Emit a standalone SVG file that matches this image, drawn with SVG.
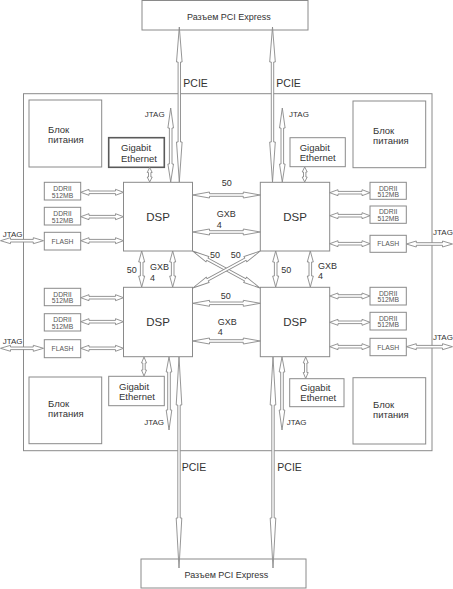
<svg xmlns="http://www.w3.org/2000/svg" width="453" height="589" viewBox="0 0 453 589">
<style>
.box{fill:#fff;stroke:#8a8a8a;stroke-width:1}
.box2{fill:#fff;stroke:#5a5a5a;stroke-width:1.6}
.ar{fill:#fff;stroke:#8a8a8a;stroke-width:0.9;stroke-linejoin:miter}
text{font-family:"Liberation Sans",Arial,sans-serif;fill:#333}
.t9{font-size:9px}
.t95{font-size:9.5px}
.t8{font-size:8px}
.t7{font-size:6.8px;fill:#555}
.pcie{font-size:10.5px}
.dsp{font-size:11.5px}
</style>
<rect width="453" height="589" fill="#fff"/>
<g id="board"><rect class="box" x="23.5" y="93.7" width="408.5" height="357"/></g>

<g id="pci-top"><rect class="box" x="142" y="0.5" width="166" height="29.5"/><text class="t9" x="187" y="20">Разъем PCI Express</text></g>
<g id="pci-bottom"><rect class="box" x="141" y="559" width="165" height="29"/><text class="t9" x="184.5" y="577.5">Разъем PCI Express</text></g>

<g id="power-tl"><rect class="box" x="29" y="100" width="72.7" height="67"/><text class="t95" x="48" y="132.5">Блок</text><text class="t95" x="48" y="142.5">питания</text></g>
<g id="power-tr"><rect class="box" x="353" y="101" width="72.7" height="66.7"/><text class="t95" x="373" y="133.5">Блок</text><text class="t95" x="373" y="143.5">питания</text></g>
<g id="power-bl"><rect class="box" x="29" y="377" width="72.7" height="66.7"/><text class="t95" x="48" y="407">Блок</text><text class="t95" x="48" y="417">питания</text></g>
<g id="power-br"><rect class="box" x="353" y="377.7" width="72.7" height="66.3"/><text class="t95" x="373" y="407.5">Блок</text><text class="t95" x="373" y="417.5">питания</text></g>

<g id="gbe-tl"><rect class="box2" x="108.7" y="137.7" width="55.6" height="29.6"/><text class="t95" x="121" y="151">Gigabit</text><text class="t95" x="121" y="161.7">Ethernet</text></g>
<g id="gbe-tr"><rect class="box" x="290" y="137.7" width="55.3" height="29"/><text class="t95" x="299.7" y="151">Gigabit</text><text class="t95" x="299.7" y="161.3">Ethernet</text></g>
<g id="gbe-bl"><rect class="box" x="108.7" y="376.3" width="55.6" height="29.4"/><text class="t95" x="119" y="389.5">Gigabit</text><text class="t95" x="119" y="399.5">Ethernet</text></g>
<g id="gbe-br"><rect class="box" x="289.7" y="378.7" width="54.3" height="28"/><text class="t95" x="300.3" y="390.7">Gigabit</text><text class="t95" x="300.3" y="400.7">Ethernet</text></g>

<g id="dsp-tl"><rect class="box" x="123.5" y="182.3" width="69" height="68.7"/><text class="dsp" x="158" y="221" text-anchor="middle">DSP</text></g>
<g id="dsp-tr"><rect class="box" x="260.3" y="182.3" width="69.4" height="68.7"/><text class="dsp" x="295" y="221" text-anchor="middle">DSP</text></g>
<g id="dsp-bl"><rect class="box" x="123.5" y="287.3" width="69" height="69.4"/><text class="dsp" x="158" y="326" text-anchor="middle">DSP</text></g>
<g id="dsp-br"><rect class="box" x="260.3" y="287.3" width="69.4" height="69.4"/><text class="dsp" x="295" y="326" text-anchor="middle">DSP</text></g>

<g id="ddr-tl1"><rect class="box" x="44.3" y="182.3" width="36.4" height="17.7"/><text class="t7" x="62.5" y="190.8" text-anchor="middle">DDRII</text><text class="t7" x="62.5" y="197.6" text-anchor="middle">512MB</text></g>
<g id="ddr-tl2"><rect class="box" x="44.3" y="207.3" width="36.4" height="17.7"/><text class="t7" x="62.5" y="215.8" text-anchor="middle">DDRII</text><text class="t7" x="62.5" y="222.6" text-anchor="middle">512MB</text></g>
<g id="flash-tl"><rect class="box" x="44.3" y="232.3" width="36.4" height="17.7"/><text class="t7" x="62.5" y="243.6" text-anchor="middle">FLASH</text></g>
<g id="ddr-bl1"><rect class="box" x="44.3" y="288.3" width="36.4" height="17.4"/><text class="t7" x="62.5" y="296.6" text-anchor="middle">DDRII</text><text class="t7" x="62.5" y="303.4" text-anchor="middle">512MB</text></g>
<g id="ddr-bl2"><rect class="box" x="44.3" y="313.7" width="36.4" height="17.3"/><text class="t7" x="62.5" y="322" text-anchor="middle">DDRII</text><text class="t7" x="62.5" y="328.8" text-anchor="middle">512MB</text></g>
<g id="flash-bl"><rect class="box" x="44.3" y="339.7" width="36.4" height="18"/><text class="t7" x="62.5" y="351.2" text-anchor="middle">FLASH</text></g>
<g id="ddr-tr1"><rect class="box" x="370" y="182.3" width="36.3" height="17"/><text class="t7" x="388.2" y="190.5" text-anchor="middle">DDRII</text><text class="t7" x="388.2" y="197.2" text-anchor="middle">512MB</text></g>
<g id="ddr-tr2"><rect class="box" x="370" y="206" width="36.3" height="17.3"/><text class="t7" x="388.2" y="214.3" text-anchor="middle">DDRII</text><text class="t7" x="388.2" y="221.2" text-anchor="middle">512MB</text></g>
<g id="flash-tr"><rect class="box" x="370" y="235.3" width="36.3" height="17"/><text class="t7" x="388.2" y="246.3" text-anchor="middle">FLASH</text></g>
<g id="ddr-br1"><rect class="box" x="370" y="287.3" width="36.3" height="17.7"/><text class="t7" x="388.2" y="295.6" text-anchor="middle">DDRII</text><text class="t7" x="388.2" y="302.4" text-anchor="middle">512MB</text></g>
<g id="ddr-br2"><rect class="box" x="370" y="312.3" width="36.3" height="17.7"/><text class="t7" x="388.2" y="320.6" text-anchor="middle">DDRII</text><text class="t7" x="388.2" y="327.4" text-anchor="middle">512MB</text></g>
<g id="flash-br"><rect class="box" x="370" y="338.3" width="36.3" height="17.4"/><text class="t7" x="388.2" y="349.5" text-anchor="middle">FLASH</text></g>

<g id="connectors">
<polygon class="ar" points="179.3,27 182.1,62 180.5,62 180.5,142 182.1,142 179.3,182 176.5,142 178.1,142 178.1,62 176.5,62"/>
<polygon class="ar" points="272.5,27 275.3,62 273.7,62 273.7,142 275.3,142 272.5,182 269.7,142 271.3,142 271.3,62 269.7,62"/>
<polygon class="ar" points="179,357 181.8,405 180.2,405 180.2,518 181.8,518 179,568 176.2,518 177.8,518 177.8,405 176.2,405"/>
<polygon class="ar" points="273,357 275.8,405 274.2,405 274.2,518 275.8,518 273,568 270.2,518 271.8,518 271.8,405 270.2,405"/>
<polygon class="ar" points="170.7,108 173.5,128 172,128 172,164 173.5,164 170.7,182 167.9,164 169.4,164 169.4,128 167.9,128"/>
<polygon class="ar" points="282.3,108 285.1,128 283.6,128 283.6,164 285.1,164 282.3,182 279.5,164 281,164 281,128 279.5,128"/>
<polygon class="ar" points="169,357 171.8,372 170.3,372 170.3,410 171.8,410 169,430 166.2,410 167.7,410 167.7,372 166.2,372"/>
<polygon class="ar" points="282,357 284.8,372 283.3,372 283.3,410 284.8,410 282,430 279.2,410 280.7,410 280.7,372 279.2,372"/>
<polygon class="ar" points="149.7,167.5 152.2,172.5 150.9,172.5 150.9,177 152.2,177 149.7,182 147.2,177 148.5,177 148.5,172.5 147.2,172.5"/>
<polygon class="ar" points="304.7,167 307.2,172 305.9,172 305.9,177 307.2,177 304.7,182 302.2,177 303.5,177 303.5,172 302.2,172"/>
<polygon class="ar" points="144,357 146.5,363 145.2,363 145.2,370 146.5,370 144,376 141.5,370 142.8,370 142.8,363 141.5,363"/>
<polygon class="ar" points="305.7,357 308.2,363 306.9,363 306.9,372.5 308.2,372.5 305.7,378.5 303.2,372.5 304.5,372.5 304.5,363 303.2,363"/>
<polygon class="ar" points="141.7,251 144.7,262 143,262 143,276 144.7,276 141.7,287 138.7,276 140.4,276 140.4,262 138.7,262"/>
<polygon class="ar" points="172.7,251 175.7,262 174,262 174,276 175.7,276 172.7,287 169.7,276 171.4,276 171.4,262 169.7,262"/>
<polygon class="ar" points="275.7,251 278.7,262 277,262 277,276 278.7,276 275.7,287 272.7,276 274.4,276 274.4,262 272.7,262"/>
<polygon class="ar" points="310.3,251 313.3,262 311.6,262 311.6,276 313.3,276 310.3,287 307.3,276 309,276 309,262 307.3,262"/>
<polygon class="ar" points="192.5,195 209.5,192 209.5,193.7 243.3,193.7 243.3,192 260.3,195 243.3,198 243.3,196.3 209.5,196.3 209.5,198"/>
<polygon class="ar" points="192.5,232 209.5,229 209.5,230.7 243.3,230.7 243.3,229 260.3,232 243.3,235 243.3,233.3 209.5,233.3 209.5,235"/>
<polygon class="ar" points="192.5,303.3 209.5,300.3 209.5,302 243.3,302 243.3,300.3 260.3,303.3 243.3,306.3 243.3,304.6 209.5,304.6 209.5,306.3"/>
<polygon class="ar" points="192.5,341 209.5,338 209.5,339.7 243.3,339.7 243.3,338 260.3,341 243.3,344 243.3,342.3 209.5,342.3 209.5,344"/>
<polygon class="ar" transform="translate(192.5,251) rotate(28.7)" points="0,0 17,-3 17,-1.3 60,-1.3 60,-3 77,0 60,3 60,1.3 17,1.3 17,3"/>
<polygon class="ar" transform="translate(260.3,251) rotate(151.3)" points="0,0 17,-3 17,-1.3 60,-1.3 60,-3 77,0 60,3 60,1.3 17,1.3 17,3"/>
<polygon class="ar" points="80.7,192.3 89,189.3 89,191 115.5,191 115.5,189.3 123.5,192.3 115.5,195.3 115.5,193.6 89,193.6 89,195.3"/>
<polygon class="ar" points="80.7,216.7 89,213.7 89,215.4 115.5,215.4 115.5,213.7 123.5,216.7 115.5,219.7 115.5,218 89,218 89,219.7"/>
<polygon class="ar" points="80.7,240.7 89,237.7 89,239.4 115.5,239.4 115.5,237.7 123.5,240.7 115.5,243.7 115.5,242 89,242 89,243.7"/>
<polygon class="ar" points="80.7,297.7 89,294.7 89,296.4 115.5,296.4 115.5,294.7 123.5,297.7 115.5,300.7 115.5,299 89,299 89,300.7"/>
<polygon class="ar" points="80.7,321.7 89,318.7 89,320.4 115.5,320.4 115.5,318.7 123.5,321.7 115.5,324.7 115.5,323 89,323 89,324.7"/>
<polygon class="ar" points="80.7,348.3 89,345.3 89,347 115.5,347 115.5,345.3 123.5,348.3 115.5,351.3 115.5,349.6 89,349.6 89,351.3"/>
<polygon class="ar" points="329.7,192.7 338,189.7 338,191.4 362,191.4 362,189.7 370,192.7 362,195.7 362,194 338,194 338,195.7"/>
<polygon class="ar" points="329.7,215.7 338,212.7 338,214.4 362,214.4 362,212.7 370,215.7 362,218.7 362,217 338,217 338,218.7"/>
<polygon class="ar" points="329.7,243.7 338,240.7 338,242.4 362,242.4 362,240.7 370,243.7 362,246.7 362,245 338,245 338,246.7"/>
<polygon class="ar" points="329.7,296 338,293 338,294.7 362,294.7 362,293 370,296 362,299 362,297.3 338,297.3 338,299"/>
<polygon class="ar" points="329.7,322.3 338,319.3 338,321 362,321 362,319.3 370,322.3 362,325.3 362,323.6 338,323.6 338,325.3"/>
<polygon class="ar" points="329.7,346.7 338,343.7 338,345.4 362,345.4 362,343.7 370,346.7 362,349.7 362,348 338,348 338,349.7"/>
<polygon class="ar" points="0.5,240.7 10.5,237.7 10.5,239.4 33.3,239.4 33.3,237.7 43.5,240.7 33.3,243.7 33.3,242 10.5,242 10.5,243.7"/>
<polygon class="ar" points="0.5,348.3 10.5,345.3 10.5,347 33.3,347 33.3,345.3 43.5,348.3 33.3,351.3 33.3,349.6 10.5,349.6 10.5,351.3"/>
<polygon class="ar" points="406.3,244 416.3,241 416.3,242.7 442.5,242.7 442.5,241 452.5,244 442.5,247 442.5,245.3 416.3,245.3 416.3,247"/>
<polygon class="ar" points="406.3,346.7 416.3,343.7 416.3,345.4 442.5,345.4 442.5,343.7 452.5,346.7 442.5,349.7 442.5,348 416.3,348 416.3,349.7"/>
</g>

<g id="labels">
<text class="pcie" x="183.3" y="86.5">PCIE</text>
<text class="pcie" x="276.3" y="86.5">PCIE</text>
<text class="pcie" x="181.7" y="470.5">PCIE</text>
<text class="pcie" x="277.3" y="470.5">PCIE</text>
<text class="t8" x="164.7" y="117.3" text-anchor="end">JTAG</text>
<text class="t8" x="289" y="116.8">JTAG</text>
<text class="t8" x="164" y="425" text-anchor="end">JTAG</text>
<text class="t8" x="286.7" y="425">JTAG</text>
<text class="t8" x="2.7" y="237">JTAG</text>
<text class="t8" x="2.7" y="344">JTAG</text>
<text class="t8" x="433" y="235">JTAG</text>
<text class="t8" x="433" y="339.5">JTAG</text>
<text class="t9" x="226.7" y="186" text-anchor="middle">50</text>
<text class="t9" x="216.7" y="217.3">GXB</text>
<text class="t9" x="216.7" y="227.5">4</text>
<text class="t9" x="225.7" y="299" text-anchor="middle">50</text>
<text class="t9" x="217.7" y="325">GXB</text>
<text class="t9" x="217.7" y="335">4</text>
<text class="t9" x="126.7" y="273.3">50</text>
<text class="t9" x="150" y="270">GXB</text>
<text class="t9" x="150" y="280.5">4</text>
<text class="t9" x="281.3" y="272.6">50</text>
<text class="t9" x="318" y="269">GXB</text>
<text class="t9" x="318" y="279.3">4</text>
<text class="t9" x="215" y="257.5" text-anchor="middle">50</text>
<text class="t9" x="235.7" y="258.2" text-anchor="middle">50</text>
</g>
</svg>
